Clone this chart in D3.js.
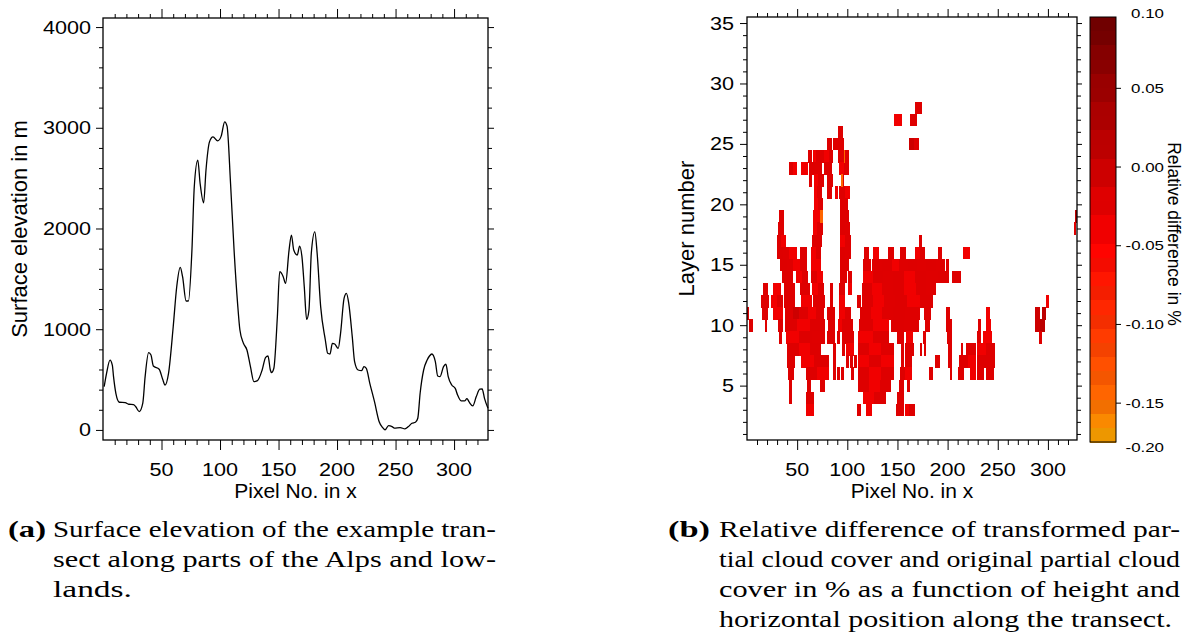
<!DOCTYPE html>
<html><head><meta charset="utf-8">
<script src="https://cdn.jsdelivr.net/npm/d3@7"></script>
<style>body{margin:0;background:#fff}svg{display:block}</style>
</head><body>
<svg id="c" width="1184" height="635"></svg>
<script>
// ---------- DATA ----------
const pixelX = [1,3,6,8,9,11,14,19,22,26,28,31,34,36,39,41,43,48,51,53,56,60,63,66,68,71,73,76,78,81,83,86,88,91,94,98,101,104,106,109,112,115,117,120,123,126,129,132,136,139,141,143,144,146,149,151,154,156,159,161,163,166,168,170,172,174,176,178,181,183,186,190,192,194,196,198,201,203,206,208,210,213,215,218,221,223,225,228,232,236,239,241,244,247,249,254,258,261,264,267,269,271,274,277,279,281,284,286,288,291,293,295,298,301,303,306,309,311,313,316,319,322,324,326,329];
const elevation = [430,560,694,640,529,364,275,271,255,251,230,182,265,529,767,744,635,602,503,446,562,1025,1422,1614,1521,1280,1280,1786,2414,2679,2447,2255,2579,2860,2910,2870,2917,3059,3016,2447,1786,1257,992,860,794,628,479,489,595,721,734,595,569,612,1124,1571,1521,1455,1786,1935,1786,1736,1825,1720,1422,1098,1190,1753,1967,1753,1224,893,761,754,860,853,810,959,1306,1356,1257,926,678,595,589,628,612,463,281,82,23,0,43,33,17,23,10,33,66,76,116,364,595,694,734,754,678,536,529,628,652,529,446,413,347,288,288,311,275,238,331,404,407,314,215];
const elevTicks = [0,1000,2000,3000,4000];
const pixelTicks = [50,100,150,200,250,300];
const layerTicks = [5,10,15,20,25,30,35];
const cbTicks = [0.05,0.00,-0.05,-0.10,-0.15];
const cbTickLabels = ["0.05","0.00","-0.05","-0.10","-0.15"];
const cbEndLabels = ["0.10","-0.20"];
const cbStops = [0.10,0.05,0.00,-0.06,-0.115,-0.17,-0.20];
const cbColors = ["#6b0000","#9e0000","#c80000","#ff0000","#ff3000","#ff6a00","#f5a800"];
// [layer, x start, x end, relative difference]
const cells = [
[28,167,174,-0.035],
[27,147,154,-0.045],[27,163,169,-0.035],
[26,91,95,-0.035],
[25,80,84,-0.035],[25,86,91,-0.025],[25,91,96,-0.035],[25,162,166,-0.015],[25,166,171,-0.035],
[24,61,64,-0.035],[24,66,68,-0.045],[24,69,73,-0.035],[24,73,77,-0.025],[24,77,81,-0.045],[24,82,85,-0.035],[24,91,96,-0.025],[24,97,101,-0.035],
[23,42,46,-0.035],[23,46,49,-0.045],[23,54,60,-0.045],[23,62,68,-0.035],[23,68,74,-0.025],[23,77,84,-0.035],[23,92,97,-0.045],[23,97,101,-0.025],
[22,62,64,-0.035],[22,67,71,-0.045],[22,71,76,-0.035],[22,80,85,-0.035],[22,95,96,-0.035],
[21,67,70,-0.045],[21,70,74,-0.025],[21,80,84,-0.035],[21,88,90,-0.045],[21,92,97,-0.035],[21,98,102,-0.045],
[20,67,71,-0.045],[20,71,75,-0.035],[20,93,97,-0.035],[20,97,100,-0.025],
[19,32,36,-0.035],[19,66,73,-0.045],[19,93,101,-0.035],[19,327,329,0.005],
[18,31,36,-0.035],[18,66,70,-0.045],[18,70,75,-0.035],[18,93,98,-0.035],[18,98,102,-0.025],[18,326,328,-0.025],
[17,30,34,-0.035],[17,34,38,-0.045],[17,65,74,-0.035],[17,93,98,-0.045],[17,98,103,-0.035],[17,171,174,-0.035],
[16,30,36,-0.035],[16,36,42,-0.025],[16,42,49,-0.045],[16,53,59,-0.035],[16,64,69,-0.045],[16,69,73,-0.035],[16,93,98,-0.035],[16,98,103,-0.025],[16,117,121,-0.035],[16,126,131,-0.045],[16,141,146,-0.035],[16,153,158,-0.035],[16,167,172,-0.045],[16,172,177,-0.035],[16,190,194,-0.035],[16,215,222,-0.045],
[15,33,40,-0.035],[15,40,46,-0.025],[15,46,53,-0.045],[15,53,59,-0.035],[15,64,73,-0.045],[15,93,101,-0.035],[15,116,123,-0.035],[15,125,135,-0.025],[15,135,145,-0.035],[15,145,152,-0.045],[15,152,161,-0.025],[15,161,169,-0.035],[15,169,178,-0.025],[15,178,188,-0.035],[15,188,197,-0.025],[15,198,201,-0.035],
[14,35,45,-0.035],[14,49,55,-0.045],[14,55,60,-0.035],[14,64,70,-0.025],[14,70,75,-0.045],[14,93,99,-0.035],[14,101,104,-0.035],[14,116,126,-0.045],[14,126,136,-0.035],[14,136,146,-0.025],[14,146,157,-0.035],[14,157,167,-0.045],[14,167,178,-0.035],[14,178,190,-0.025],[14,190,201,-0.035],[14,204,213,-0.035],
[13,16,21,-0.035],[13,26,33,-0.045],[13,37,42,-0.035],[13,42,47,-0.025],[13,53,62,-0.035],[13,65,71,-0.045],[13,71,76,-0.035],[13,83,85,-0.035],[13,92,97,-0.035],[13,101,104,-0.045],[13,115,125,-0.035],[13,125,135,-0.045],[13,135,146,-0.025],[13,146,157,-0.035],[13,157,168,-0.045],[13,168,178,-0.035],[13,178,188,-0.025],
[12,14,22,-0.035],[12,24,30,-0.045],[12,30,35,-0.035],[12,37,47,-0.035],[12,54,64,-0.045],[12,66,72,-0.035],[12,72,77,-0.025],[12,83,85,-0.035],[12,92,97,-0.045],[12,110,113,-0.035],[12,115,126,-0.035],[12,126,137,-0.045],[12,137,148,-0.025],[12,148,160,-0.035],[12,160,172,-0.045],[12,172,185,-0.035],[12,298,301,-0.045],
[11,0,2,-0.035],[11,15,21,-0.035],[11,26,35,-0.045],[11,38,46,-0.035],[11,46,52,-0.015],[11,52,60,-0.035],[11,61,69,-0.045],[11,69,76,-0.035],[11,80,87,-0.035],[11,92,98,-0.045],[11,98,103,-0.035],[11,113,124,-0.035],[11,124,135,-0.045],[11,135,146,-0.025],[11,146,158,-0.035],[11,158,172,-0.025],[11,176,183,-0.035],[11,198,202,-0.035],[11,238,242,-0.045],[11,287,292,-0.015],[11,294,298,0.005],
[10,2,6,-0.035],[10,18,20,-0.035],[10,31,35,-0.035],[10,38,50,-0.035],[10,50,63,-0.045],[10,63,77,-0.035],[10,81,87,-0.035],[10,91,94,-0.045],[10,95,105,-0.035],[10,112,126,-0.035],[10,126,141,-0.045],[10,144,157,-0.035],[10,157,171,-0.025],[10,177,182,-0.035],[10,198,204,-0.035],[10,230,233,-0.035],[10,238,243,-0.045],[10,287,292,-0.015],[10,292,297,0.005],
[9,32,34,-0.035],[9,39,52,-0.045],[9,52,65,-0.035],[9,65,77,-0.025],[9,80,87,-0.035],[9,90,92,-0.035],[9,95,106,-0.035],[9,111,126,-0.045],[9,126,141,-0.035],[9,150,156,-0.035],[9,159,165,-0.045],[9,175,178,-0.035],[9,199,204,-0.035],[9,229,233,-0.035],[9,235,244,-0.045],[9,291,294,-0.025],
[8,40,52,-0.035],[8,52,63,-0.045],[8,63,73,-0.035],[8,86,88,-0.035],[8,95,97,-0.035],[8,99,106,-0.045],[8,111,122,-0.035],[8,122,134,-0.045],[8,134,146,-0.025],[8,154,156,-0.035],[8,158,166,-0.035],[8,172,174,-0.035],[8,176,178,-0.035],[8,200,204,-0.035],[8,213,215,-0.035],[8,218,228,-0.035],[8,229,238,-0.045],[8,238,247,-0.035],
[7,40,47,-0.035],[7,54,67,-0.045],[7,67,81,-0.035],[7,86,88,-0.035],[7,99,101,-0.035],[7,103,105,-0.035],[7,107,109,-0.035],[7,111,122,-0.045],[7,122,134,-0.035],[7,134,146,-0.045],[7,154,156,-0.035],[7,158,164,-0.035],[7,187,192,-0.035],[7,200,204,-0.035],[7,211,220,-0.035],[7,220,228,-0.045],[7,229,238,-0.035],[7,238,247,-0.035],
[6,41,46,-0.035],[6,59,70,-0.035],[6,70,81,-0.045],[6,86,88,-0.035],[6,90,92,-0.035],[6,94,96,-0.035],[6,104,106,-0.035],[6,111,122,-0.035],[6,122,134,-0.045],[6,134,146,-0.035],[6,153,157,-0.035],[6,158,164,-0.045],[6,181,185,-0.035],[6,202,204,-0.035],[6,210,216,-0.035],[6,222,228,-0.045],[6,229,236,-0.035],[6,238,246,-0.035],
[5,42,44,-0.035],[5,60,63,-0.035],[5,73,77,-0.035],[5,111,122,-0.035],[5,122,133,-0.045],[5,133,143,-0.035],[5,152,156,-0.035],[5,160,162,-0.035],
[4,42,44,-0.035],[4,59,66,-0.035],[4,116,127,-0.045],[4,127,138,-0.035],[4,150,156,-0.035],
[3,59,66,-0.045],[3,110,113,-0.035],[3,119,124,-0.045],[3,149,156,-0.035],[3,158,161,-0.045],[3,162,167,-0.035],
// orange streaks
[24,96.4,97.2,-0.165],[22,94.2,95,-0.165],[19,73,75,-0.165]
];
const captionA = ["Surface elevation of the example tran-","sect along parts of the Alps and low-","lands."];
const captionB = ["Relative difference of transformed par-","tial cloud cover and original partial cloud","cover in % as a function of height and","horizontal position along the transect."];

// ---------- DRAW ----------
const svg = d3.select("#c");
const SANS = "'Liberation Sans', Arial, Helvetica, sans-serif";
const SERIF = "'Liberation Serif', 'Times New Roman', serif";

function sText(g, x, y, str, anchor, size, sx) {
  g.append("text")
    .attr("transform", `translate(${x},${y}) scale(${sx},1)`)
    .attr("text-anchor", anchor)
    .style("font-family", SANS).style("font-size", size + "px")
    .attr("fill", "#000").text(str);
}
function tickAxis(g, axisFn, scale, values, size) {
  const ax = axisFn(scale).tickValues(values).tickSize(size).tickSizeOuter(0).tickFormat("");
  const s = g.append("g").call(ax);
  s.select(".domain").remove();
  s.selectAll("line").attr("stroke", "#000").attr("stroke-width", 1);
  return s;
}
function frame(box, xS, yS, majX, minX, majY, minY, tl) {
  const g = svg.append("g");
  const top = g.append("g").attr("transform", `translate(0,${box.y0})`);
  tickAxis(top, d3.axisTop, xS, majX, tl.top[0]); tickAxis(top, d3.axisTop, xS, minX, tl.top[1]);
  const bot = g.append("g").attr("transform", `translate(0,${box.y1})`);
  tickAxis(bot, d3.axisBottom, xS, majX, tl.bot[0]); tickAxis(bot, d3.axisBottom, xS, minX, tl.bot[1]);
  const lft = g.append("g").attr("transform", `translate(${box.x0},0)`);
  tickAxis(lft, d3.axisLeft, yS, majY, tl.left[0]); tickAxis(lft, d3.axisLeft, yS, minY, tl.left[1]);
  const rgt = g.append("g").attr("transform", `translate(${box.x1},0)`);
  tickAxis(rgt, d3.axisRight, yS, majY, tl.right[0]); tickAxis(rgt, d3.axisRight, yS, minY, tl.right[1]);
  g.append("rect").attr("x", box.x0).attr("y", box.y0)
    .attr("width", box.x1 - box.x0).attr("height", box.y1 - box.y0)
    .attr("fill", "none").attr("stroke", "#000").attr("stroke-width", 1.3);
  return g;
}
function title(g, transform, str, size) {
  g.append("text").attr("transform", transform).attr("text-anchor", "middle")
    .style("font-family", SANS).style("font-size", size + "px").attr("fill", "#000").text(str);
}

// ---- Left panel: surface elevation ----
const BL = {x0: 103, x1: 488, y0: 18, y1: 440};
const xL = d3.scaleLinear().domain([0, 329]).range([BL.x0, BL.x1]);
const yL = d3.scaleLinear().domain([-100, 4090]).range([BL.y1, BL.y0]);
const minorPix = d3.range(10, 330, 10).filter(v => !pixelTicks.includes(v));
const minorElev = d3.range(0, 4001, 200).filter(v => !elevTicks.includes(v));

svg.append("path")
  .datum(pixelX.map((x, i) => [x, elevation[i]]))
  .attr("fill", "none").attr("stroke", "#000").attr("stroke-width", 1.3)
  .attr("stroke-linejoin", "round")
  .attr("d", d3.line().x(d => xL(d[0])).y(d => yL(d[1])).curve(d3.curveMonotoneX));

const fL = frame(BL, xL, yL, pixelTicks, minorPix, elevTicks, minorElev,
  {top: [9, 4], bot: [10, 5], left: [7, 4], right: [6, 4]});
elevTicks.forEach(v => sText(fL, 91, yL(v) + 6.5, String(v), "end", 18, 1.2));
pixelTicks.forEach(v => sText(fL, xL(v), 476, String(v), "middle", 18, 1.2));
title(fL, `translate(${(BL.x0 + BL.x1) / 2},498)`, "Pixel No. in x", 21);
title(fL, `translate(27,${(BL.y0 + BL.y1) / 2}) rotate(-90)`, "Surface elevation in m", 22);

// ---- Right panel: relative difference ----
const BR = {x0: 747, x1: 1077, y0: 17, y1: 440};
const xR = d3.scaleLinear().domain([0, 329]).range([BR.x0, BR.x1]);
const yR = d3.scaleLinear().domain([0.5, 35.5]).range([BR.y1, BR.y0]);
const minorLayer = d3.range(1, 36).filter(v => !layerTicks.includes(v));

const ramp = d3.scaleLinear().domain(cbStops).range(cbColors).interpolate(d3.interpolateRgb);
const nBands = 30, cbMax = 0.10, cbMin = -0.20, bandW = (cbMax - cbMin) / nBands;
function bandColor(i) {
  const mid = cbMax - (i + 0.5) * bandW;
  const c = d3.color(ramp(mid));
  return (i % 2 === 1) ? c.darker(0.12).formatHex() : c.formatHex();
}
function valueColor(v) {
  let i = Math.floor((cbMax - v) / bandW);
  i = Math.max(0, Math.min(nBands - 1, i));
  return bandColor(i);
}

svg.append("g").attr("shape-rendering", "crispEdges")
  .selectAll("rect").data(cells).join("rect")
  .attr("x", d => xR(d[1])).attr("width", d => Math.max(1, xR(d[2]) - xR(d[1]) + 0.4))
  .attr("y", d => yR(d[0] + 0.5)).attr("height", d => yR(d[0] - 0.5) - yR(d[0] + 0.5) + 0.5)
  .attr("fill", d => valueColor(d[3]));

const fR = frame(BR, xR, yR, pixelTicks, minorPix, layerTicks, minorLayer,
  {top: [8, 4], bot: [10, 5], left: [7, 4], right: [5, 4]});
layerTicks.forEach(v => sText(fR, 734, yR(v) + 6.5, String(v), "end", 18, 1.2));
pixelTicks.forEach(v => sText(fR, xR(v), 476, String(v), "middle", 18, 1.2));
title(fR, `translate(${(BR.x0 + BR.x1) / 2},498)`, "Pixel No. in x", 21);
title(fR, `translate(694,${(BR.y0 + BR.y1) / 2}) rotate(-90)`, "Layer number", 22);

// ---- Colour bar ----
const CB = {x0: 1090, x1: 1116, y0: 17, y1: 442};
const cbY = d3.scaleLinear().domain([cbMax, cbMin]).range([CB.y0, CB.y1]);
const cbTickY = d3.scaleLinear().domain([0.095, -0.175]).range([CB.y0, CB.y1]);
const cbg = svg.append("g");
cbg.append("g").attr("shape-rendering", "crispEdges")
  .selectAll("rect").data(d3.range(nBands)).join("rect")
  .attr("x", CB.x0).attr("width", CB.x1 - CB.x0)
  .attr("y", i => cbY(cbMax - i * bandW)).attr("height", i => cbY(cbMax - (i + 1) * bandW) - cbY(cbMax - i * bandW) + 0.5)
  .attr("fill", i => bandColor(i));
cbg.append("rect").attr("x", CB.x0).attr("y", CB.y0).attr("width", CB.x1 - CB.x0).attr("height", CB.y1 - CB.y0)
  .attr("fill", "none").attr("stroke", "#000").attr("stroke-width", 1);
const cbAx = cbg.append("g").attr("transform", `translate(${CB.x1},0)`);
tickAxis(cbAx, d3.axisRight, cbTickY, cbTicks, 5);
cbTicks.forEach((v, i) => sText(cbg, 1164, cbTickY(v) + 5, cbTickLabels[i], "end", 13, 1.3));
sText(cbg, 1164, CB.y0 + 1, cbEndLabels[0], "end", 13, 1.3);
sText(cbg, 1164, CB.y1 + 10, cbEndLabels[1], "end", 13, 1.3);
title(cbg, `translate(1168,234) rotate(90)`, "Relative difference in %", 17.5);

// ---- Captions ----
function capLine(x, y, str, w, bold) {
  svg.append("text").attr("x", x).attr("y", y)
    .style("font-family", SERIF).style("font-size", "24px").style("font-weight", bold ? "bold" : "normal")
    .attr("fill", "#000").attr("textLength", w).attr("lengthAdjust", "spacingAndGlyphs").text(str);
}
capLine(8, 537, "(a)", 38, true);
const capAW = [443, 443, 79];
captionA.forEach((t, i) => capLine(53, 537 + i * 30, t, capAW[i], false));
capLine(668, 537, "(b)", 42, true);
const capBW = [461, 461, 461, 453];
captionB.forEach((t, i) => capLine(719, 537 + i * 30, t, capBW[i], false));
</script>
</body></html>
